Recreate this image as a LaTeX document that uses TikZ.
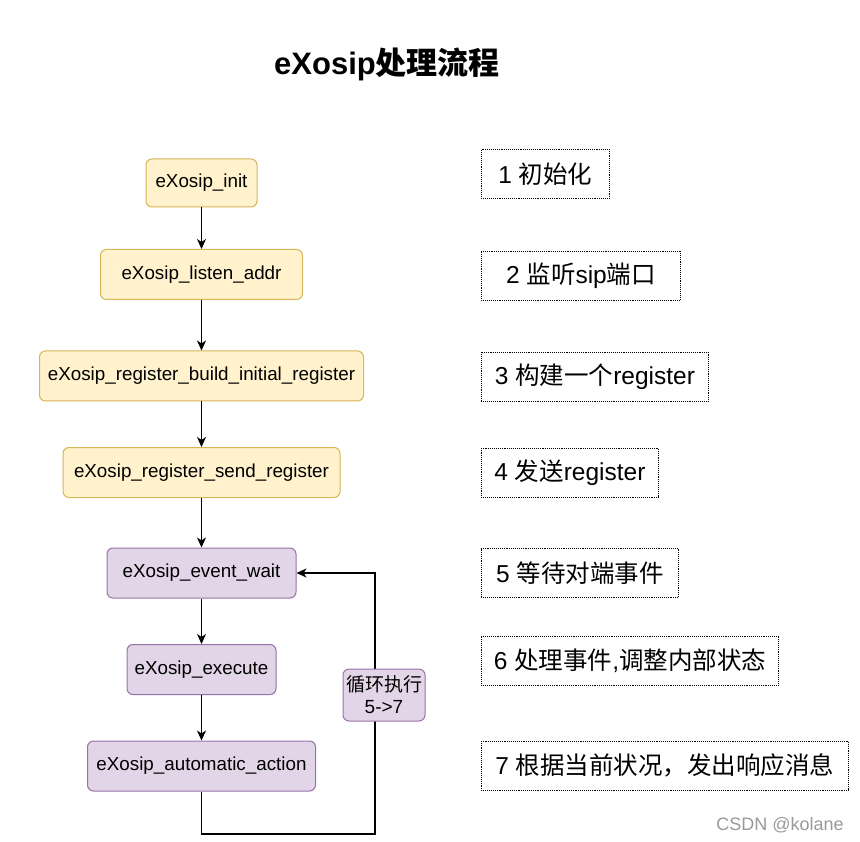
\documentclass[tikz,border=0pt]{standalone}
\usepackage{fontspec}
\setmainfont{Liberation Sans}
\newfontfamily\zhfont{Noto Sans CJK SC}
\newcommand{\zh}[1]{{\zhfont #1}}
\usetikzlibrary{arrows.meta,positioning}

\definecolor{yfill}{HTML}{FFF2CC}
\definecolor{ydraw}{HTML}{D6B656}
\definecolor{pfill}{HTML}{E1D5E7}
\definecolor{pdraw}{HTML}{9673A6}

\begin{document}
\begin{tikzpicture}[x=1pt, y=-1pt, >={Stealth[length=10pt,width=9pt,inset=3pt]}, line width=1.1pt]
	\tikzstyle{func}=[draw, rounded corners=6pt, line width=1pt, minimum height=50pt,
		inner sep=0pt, font=\fontsize{18.8}{22}\selectfont]
	\tikzstyle{yellowbox}=[func, fill=yfill, draw=ydraw]
	\tikzstyle{purplebox}=[func, fill=pfill, draw=pdraw]
	\tikzstyle{note}=[draw, densely dotted, line width=0.9pt, minimum height=49pt,
		inner sep=0pt, anchor=west, font=\fontsize{24.5}{28}\selectfont]
	\useasboundingbox (0,0) rectangle (860,842);
	% % Nodes
	% title
	\node[font=\fontsize{31}{36}\selectfont\bfseries] (title) at (387,64)
	{eXosip\zh{处理流程}};
	% setup steps
	\node[yellowbox, minimum width=111pt, minimum height=48pt] (init) at (201.5,183)
	{eXosip\_init};
	\node[yellowbox, minimum width=202pt, below=41.5pt of init] (listen)
	{eXosip\_listen\_addr};
	\node[yellowbox, minimum width=324pt, below=50.5pt of listen] (build)
	{eXosip\_register\_build\_initial\_register};
	\node[yellowbox, minimum width=277pt, below=45.5pt of build] (send)
	{eXosip\_register\_send\_register};
	% event loop
	\node[purplebox, minimum width=189pt, below=49.5pt of send] (wait)
	{eXosip\_event\_wait};
	\node[purplebox, minimum width=149pt, below=45.5pt of wait] (exec)
	{eXosip\_execute};
	\node[purplebox, minimum width=228pt, below=45.5pt of exec] (auto)
	{eXosip\_automatic\_action};
	\coordinate (turn) at (375,834);
	% notes
	\node[note, minimum width=128pt] (n1) at (481,174) {1 \zh{初始化}};
	\node[note, minimum width=199pt] (n2) at (481,275.5) {2 \zh{监听}sip\zh{端口}};
	\node[note, minimum width=227pt] (n3) at (481,376.5) {3 \zh{构建一个}register};
	\node[note, minimum width=177pt] (n4) at (481,472.5) {4 \zh{发送}register};
	\node[note, minimum width=197pt] (n5) at (481,573) {5 \zh{等待对端事件}};
	\node[note, minimum width=297pt] (n6) at (481,660.5) {6 \zh{处理事件},\zh{调整内部状态}};
	\node[note, minimum width=367pt] (n7) at (481,765.5) {7 \zh{根据当前状况，发出响应消息}};
	% % Connectors
	\draw [->] (init) -- (listen);
	\draw [->] (listen) -- (build);
	\draw [->] (build) -- (send);
	\draw [->] (send) -- (wait);
	\draw [->] (wait) -- (exec);
	\draw [->] (exec) -- (auto);
	\draw [->] (auto) |- (turn) |- (wait);
	% loop label
	\node[purplebox, minimum width=82pt, minimum height=52pt, align=center,
		font=\fontsize{19}{22}\selectfont] (loop) at (384,695)
	{\zh{循环执行}\\5->7};
	% watermark
	\node[text=black!40, font=\fontsize{18}{20}\selectfont] (mark) at (780,825)
	{CSDN @kolane};
\end{tikzpicture}
\end{document}
